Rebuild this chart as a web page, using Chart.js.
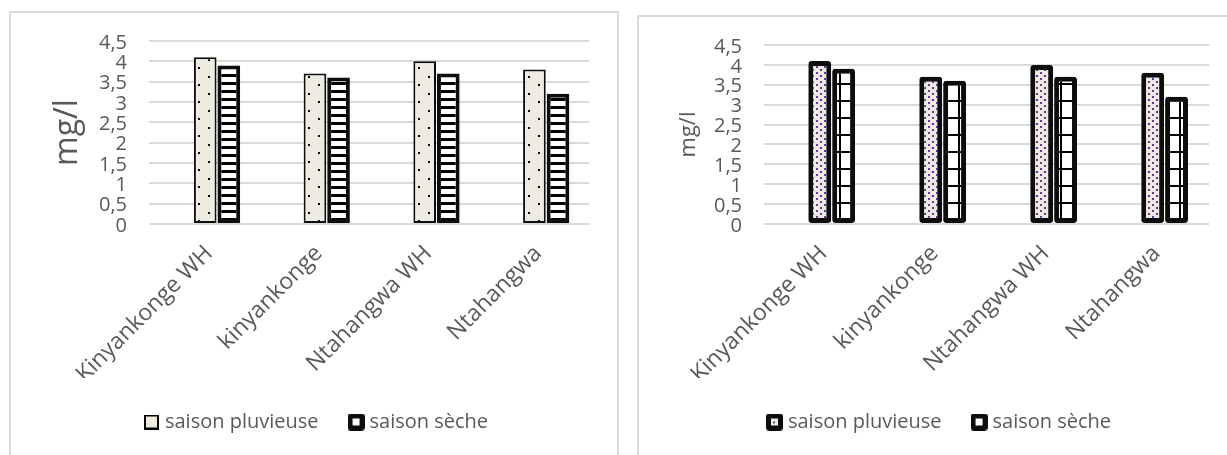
<!DOCTYPE html>
<html>
<head>
<meta charset="utf-8">
<script src="https://cdn.jsdelivr.net/npm/chart.js@4/dist/chart.umd.min.js"></script>
<style>
  html, body { margin: 0; padding: 0; background: #fff; overflow: hidden; width: 1227px; height: 455px; }
  .frame { position: absolute; box-sizing: border-box; border: 2px solid #d9d9d9; }
  #f1 { left: 9px; top: 11px; width: 610px; height: 480px; }
  #f2 { left: 637px; top: 15px; width: 620px; height: 480px; }
  canvas { position: absolute; }
  #c1 { left: 11px; top: 13px; width: 614px; height: 442px; }
  #c2 { left: 639px; top: 17px; width: 604px; height: 438px; }
</style>
</head>
<body>
<div class="frame" id="f1"></div>
<div class="frame" id="f2"></div>
<canvas id="c1" width="614" height="442"></canvas>
<canvas id="c2" width="604" height="438"></canvas>
<script>
// Sites sampled and the concentration (mg/l) measured in each season
const sites = ['Kinyankonge WH', 'kinyankonge', 'Ntahangwa WH', 'Ntahangwa'];
const seriesNames = ['saison pluvieuse', 'saison sèche'];
const rainySeason = [4.1, 3.7, 4.0, 3.8];
const drySeason = [3.9, 3.6, 3.7, 3.2];
const yTickLabels = ['0', '0,5', '1', '1,5', '2', '2,5', '3', '3,5', '4', '4,5'];
const yAxisTitle = 'mg/l';

Chart.defaults.font.family = "'Open Sans', sans-serif";
const TEXT = '#595959';
const BEIGE = '#EEECE1';
const PURPLE = '#7030A0';

// small offscreen canvas used as a fill tile or legend icon
function tile(w, h, paint) {
  const c = document.createElement('canvas');
  c.width = w; c.height = h;
  paint(c.getContext('2d'));
  return c;
}
function roundBox(g, x, y, w, h, r) {
  g.beginPath();
  g.moveTo(x + r, y); g.lineTo(x + w - r, y); g.quadraticCurveTo(x + w, y, x + w, y + r);
  g.lineTo(x + w, y + h - r); g.quadraticCurveTo(x + w, y + h, x + w - r, y + h);
  g.lineTo(x + r, y + h); g.quadraticCurveTo(x, y + h, x, y + h - r);
  g.lineTo(x, y + r); g.quadraticCurveTo(x, y, x + r, y);
  g.closePath(); g.fill();
}

// Legend icons
const iconThinBeige = tile(15, 15, g => {
  g.fillStyle = '#000'; g.fillRect(0, 0, 15, 15);
  g.fillStyle = BEIGE; g.fillRect(2, 2, 11, 11);
});
const iconThickWhite = tile(17, 17, g => {
  g.fillStyle = '#0d0d0d'; roundBox(g, 0, 0, 17, 17, 3);
  g.fillStyle = '#fff'; g.fillRect(5, 5, 7, 7);
});
const iconThickDotted = tile(17, 17, g => {
  g.fillStyle = '#0d0d0d'; roundBox(g, 0, 0, 17, 17, 3);
  g.fillStyle = BEIGE; g.fillRect(5, 5, 7, 7);
  g.fillStyle = PURPLE; g.fillRect(7, 8, 2, 2);
});

function buildChart(canvas, cfg) {
  const ctx = canvas.getContext('2d');
  const fills = cfg.fills(ctx);
  const values = [rainySeason, drySeason];
  return new Chart(canvas, {
    type: 'bar',
    data: {
      datasets: values.map((vals, i) => ({
        label: seriesNames[i],
        data: vals.map((v, k) => ({ x: k, y: v })),
        backgroundColor: fills[i],
        borderColor: '#0d0d0d',
        borderWidth: cfg.borderWidths[i],
        borderRadius: cfg.radius,
        borderSkipped: false
      }))
    },
    options: {
      responsive: false,
      animation: false,
      events: [],
      layout: { padding: { top: cfg.top, bottom: 13, left: 0, right: 0 } },
      datasets: { bar: { categoryPercentage: cfg.catPct, barPercentage: 0.96 } },
      scales: {
        x: {
          type: 'linear',
          min: cfg.xMin, max: cfg.xMax,
          offset: false,
          grid: { display: false },
          border: { display: false },
          afterFit: s => { s.height = cfg.xHeight; },
          ticks: {
            stepSize: 1, includeBounds: false, autoSkip: false,
            minRotation: 45, maxRotation: 45, padding: 8, labelOffset: -8,
            color: TEXT, font: { size: 23 },
            callback: v => (Number.isInteger(v) && sites[v] !== undefined) ? sites[v] : ''
          }
        },
        y: {
          position: 'left',
          min: 0, max: 4.5,
          grid: { color: '#d9d9d9', lineWidth: 2, drawTicks: true, tickLength: 16, tickColor: 'rgba(0,0,0,0)' },
          border: { display: false },
          afterFit: s => { s.width = cfg.yWidth; },
          ticks: {
            stepSize: 0.5, autoSkip: false, padding: 6, labelOffset: 2,
            color: TEXT, font: { size: 20 },
            callback: (v, i) => yTickLabels[i]
          },
          title: {
            display: true, text: yAxisTitle, color: TEXT,
            font: { size: cfg.titleSize },
            padding: { top: cfg.titlePad, bottom: 0 }
          }
        },
        yRight: {
          position: 'right',
          grid: { display: false },
          border: { display: false },
          ticks: { display: false },
          afterFit: s => { s.width = cfg.rightWidth; }
        }
      },
      plugins: {
        tooltip: { enabled: false },
        legend: {
          position: 'bottom',
          labels: {
            usePointStyle: true,
            pointStyleWidth: 7,
            padding: 34,
            color: TEXT,
            font: { size: 20 },
            generateLabels: chart => chart.data.datasets.map((ds, i) => ({
              text: ds.label,
              fillStyle: '#fff',
              strokeStyle: '#000',
              lineWidth: 0,
              pointStyle: cfg.icons[i],
              fontColor: TEXT,
              hidden: false,
              datasetIndex: i
            }))
          }
        }
      }
    }
  });
}

// Left chart: sparse black dots on beige, and white with black horizontal stripes
buildChart(document.getElementById('c1'), {
  top: 28, xHeight: 154, yWidth: 138, rightWidth: 36,
  xMin: -0.62, xMax: 3.39, catPct: 0.43,
  titleSize: 32, titlePad: 38,
  radius: 0, borderWidths: [2, 4],
  icons: [iconThinBeige, iconThickWhite],
  fills: ctx => [
    ctx.createPattern(tile(20, 17, g => {
      g.fillStyle = BEIGE; g.fillRect(0, 0, 20, 17);
      g.fillStyle = '#000'; g.fillRect(7, 3, 2, 2); g.fillRect(17, 12, 2, 2);
    }), 'repeat'),
    ctx.createPattern(tile(8, 8, g => {
      g.fillStyle = '#fff'; g.fillRect(0, 0, 8, 8);
      g.fillStyle = '#000'; g.fillRect(0, 5, 8, 3);
    }), 'repeat')
  ]
});

// Right chart: purple dots on beige, and white with a wide black grid
buildChart(document.getElementById('c2'), {
  top: 28, xHeight: 154, yWidth: 125, rightWidth: 34,
  xMin: -0.61, xMax: 3.40, catPct: 0.43,
  titleSize: 22, titlePad: 37,
  radius: 3, borderWidths: [5, 5],
  icons: [iconThickDotted, iconThickWhite],
  fills: ctx => [
    ctx.createPattern(tile(8, 6, g => {
      g.fillStyle = BEIGE; g.fillRect(0, 0, 8, 6);
      g.fillStyle = PURPLE; g.fillRect(1, 1, 2, 2); g.fillRect(5, 4, 2, 2);
    }), 'repeat'),
    ctx.createPattern(tile(17, 17, g => {
      g.fillStyle = '#fff'; g.fillRect(0, 0, 17, 17);
      g.fillStyle = '#000'; g.fillRect(0, 15, 17, 2); g.fillRect(13, 0, 2, 17);
    }), 'repeat')
  ]
});
</script>
</body>
</html>
